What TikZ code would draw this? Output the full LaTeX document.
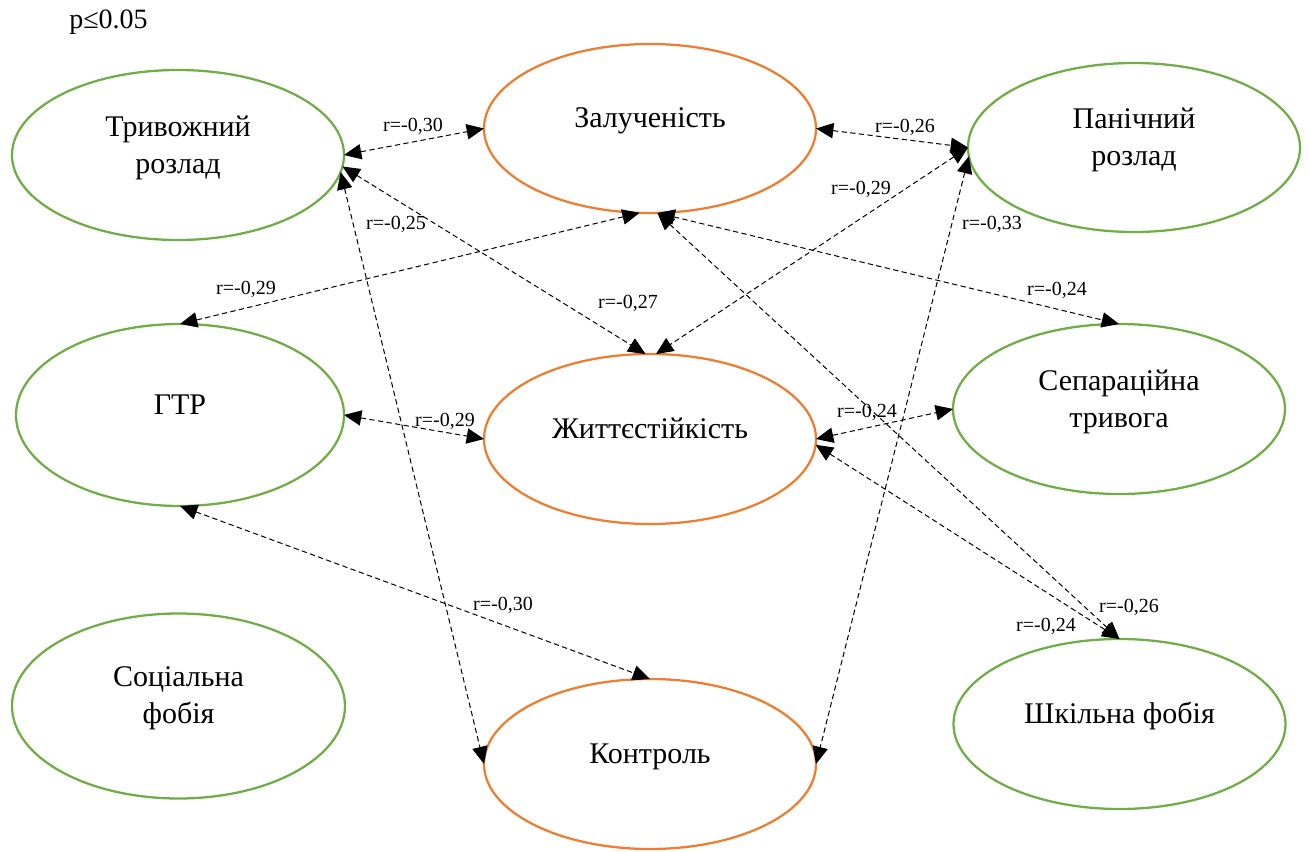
\documentclass[tikz,border=0pt]{standalone}
\usepackage{fontspec}
\setmainfont{Liberation Serif}
\usetikzlibrary{shapes.geometric,arrows.meta}
\definecolor{grn}{RGB}{112,173,71}
\definecolor{org}{RGB}{237,125,49}
\begin{document}
\begin{tikzpicture}[x=0.75pt,y=-0.75pt,
  ell/.style={ellipse,draw,line width=1.7pt,inner sep=0pt,outer sep=0pt,minimum width=249pt,minimum height=127.5pt},
  gell/.style={ell,draw=grn},
  oell/.style={ell,draw=org},
  txt/.style={font=\fontsize{22.5pt}{27.75pt}\selectfont,align=center,inner sep=0pt},
  one/.style={text height=15.75pt,text depth=5.6pt},
  lbl/.style={font=\fontsize{15pt}{18pt}\selectfont,inner sep=0pt,text height=10.2pt,text depth=0pt},
  conn/.style={line width=0.75pt,dash pattern=on 4pt off 2.5pt,
    {Triangle[length=13pt,width=11.5pt,sep=0pt]}-{Triangle[length=13pt,width=11.5pt,sep=0pt]}},
]
\useasboundingbox (0,0) rectangle (1310,852);

% ellipses
\node[gell] (trv) at (178,155) {};
\node[oell,minimum height=126.75pt] (zal) at (650,128.5) {};
\node[gell,minimum height=126.75pt] (pan) at (1134,147.5) {};
\node[gell,minimum width=246pt,minimum height=136.5pt] (gtr) at (180,415) {};
\node[oell] (zht) at (650,439) {};
\node[gell] (sep) at (1119,409) {};
\node[gell,minimum width=249.75pt,minimum height=138.75pt] (soc) at (178.5,706) {};
\node[oell] (ktr) at (650,764) {};
\node[gell] (shk) at (1119.5,724) {};

% texts
\node[txt] (trv-t) at (178,147.5) {Тривожний\\розлад};
\node[txt,one] (zal-t) at (650,121) {Залученість};
\node[txt] (pan-t) at (1134,140) {Панічний\\розлад};
\node[txt,one] (gtr-t) at (180,407.5) {ГТР};
\node[txt,one] (zht-t) at (650,431.5) {Життєстійкість};
\node[txt] (sep-t) at (1119,401.5) {Сепараційна\\тривога};
\node[txt] (soc-t) at (178.5,698.5) {Соціальна\\фобія};
\node[txt,one] (ktr-t) at (650,756.5) {Контроль};
\node[txt,one] (shk-t) at (1119.5,716.5) {Шкільна фобія};

\node[font=\fontsize{21pt}{25pt}\selectfont,inner sep=0pt,anchor=base west] (p) at (69,28.5) {p≤0.05};

% connectors
\draw[conn] (trv.east) -- (zal.west);
\draw[conn] (trv.-4) -- (zht.93.5);
\draw[conn] (trv.-6) -- (ktr.west);
\draw[conn] (zal.-97) -- (gtr.north);
\draw[conn] (zal.-85) -- (sep.north);
\draw[conn] (zal.-85) -- (shk.north);
\draw[conn] (zal.east) -- (pan.west);
\draw[conn] (pan.west) -- (zht.86.5);
\draw[conn] (pan.-177) -- (ktr.east);
\draw[conn] (gtr.east) -- (zht.west);
\draw[conn] (gtr.south) -- (ktr.north);
\draw[conn] (zht.east) -- (sep.west);
\draw[conn] (zht.-2) -- (shk.north);

% labels
\node[lbl] (l1) at (413,125) {r=-0,30};
\node[lbl] (l2) at (396,223) {r=-0,25};
\node[lbl] (l3) at (628,302) {r=-0,27};
\node[lbl] (l4) at (246,288) {r=-0,29};
\node[lbl] (l5) at (445,420) {r=-0,29};
\node[lbl] (l6) at (861,188) {r=-0,29};
\node[lbl] (l7) at (905,126) {r=-0,26};
\node[lbl] (l8) at (992,223) {r=-0,33};
\node[lbl] (l9) at (1057,289) {r=-0,24};
\node[lbl] (l10) at (867,411) {r=-0,24};
\node[lbl] (l11) at (1046,625) {r=-0,24};
\node[lbl] (l12) at (1129,606) {r=-0,26};
\node[lbl] (l13) at (503,604) {r=-0,30};
\end{tikzpicture}
\end{document}
